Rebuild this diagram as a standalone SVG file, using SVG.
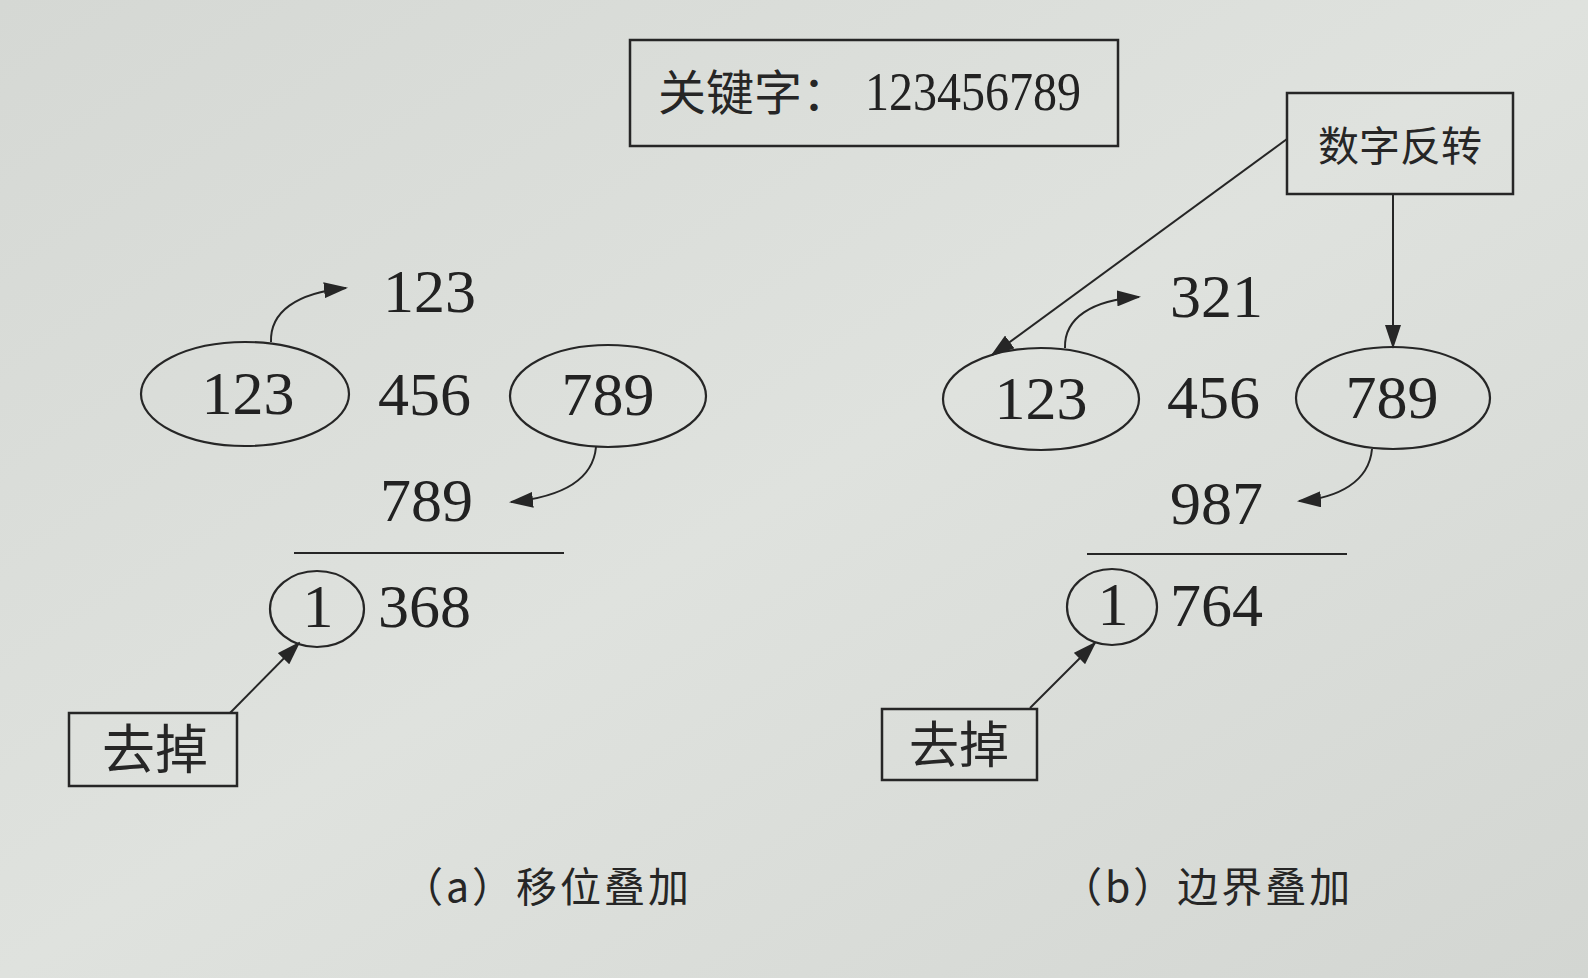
<svg xmlns="http://www.w3.org/2000/svg" width="1588" height="978" viewBox="0 0 1588 978">
<defs>
<marker id="ah" viewBox="0 0 24 16" refX="22" refY="8" markerWidth="24" markerHeight="16" markerUnits="userSpaceOnUse" orient="auto">
<path d="M0,0 L24,8 L0,16 Z" fill="#262626"/>
</marker>
<linearGradient id="bg" x1="0" y1="0" x2="1" y2="1">
<stop offset="0" stop-color="#d5d8d4"/>
<stop offset="0.5" stop-color="#dfe2de"/>
<stop offset="1" stop-color="#d3d6d2"/>
</linearGradient>
</defs>
<style>
.num{font-family:"Liberation Serif","Times New Roman",serif;font-size:62px;fill:#222}
.key{font-family:"Liberation Serif","Times New Roman",serif;font-size:55px;fill:#222}
.cjk{font-family:"Noto Sans CJK SC","Noto Sans",sans-serif;fill:#262626}
.cap{letter-spacing:3px}
.box{fill:none;stroke:#262626;stroke-width:2.5}
.shape{fill:none;stroke:#262626;stroke-width:2.2}
.conn{fill:none;stroke:#262626;stroke-width:2;marker-end:url(#ah)}
.rule{stroke:#262626;stroke-width:2.2}
</style>
<rect width="1588" height="978" fill="url(#bg)"/>

<g id="key">
<rect class="box" x="630" y="40" width="488" height="106"/>
<text class="cjk" x="658" y="110" font-size="48">关键字：</text>
<text class="key" x="865" y="110" textLength="216" lengthAdjust="spacingAndGlyphs">123456789</text>
</g>

<g id="reverse">
<rect class="box" x="1287" y="93" width="226" height="101"/>
<text class="cjk" x="1400" y="161" font-size="41" text-anchor="middle">数字反转</text>
</g>

<!-- (a) shift folding -->
<g id="a-top123"><text class="num" x="383" y="312">123</text></g>
<g id="a-e123">
<ellipse class="shape" cx="245" cy="394" rx="104" ry="52"/>
<text class="num" x="248" y="414" text-anchor="middle">123</text>
</g>
<g id="a-456"><text class="num" x="378" y="415">456</text></g>
<g id="a-e789">
<ellipse class="shape" cx="608" cy="396" rx="98" ry="51"/>
<text class="num" x="608" y="415" text-anchor="middle">789</text>
</g>
<g id="a-low789"><text class="num" x="380" y="521">789</text></g>
<g id="a-rule"><line class="rule" x1="294" y1="553" x2="564" y2="553"/></g>
<g id="a-c1">
<ellipse class="shape" cx="317" cy="609" rx="47" ry="38"/>
<text class="num" x="318" y="627" text-anchor="middle">1</text>
</g>
<g id="a-368"><text class="num" x="378" y="627">368</text></g>
<g id="a-drop">
<rect class="box" x="69" y="713" width="168" height="73"/>
<text class="cjk" x="155" y="769" font-size="53" text-anchor="middle">去掉</text>
</g>
<g id="a-caption"><text class="cjk cap" x="402" y="902" font-size="41">（a）移位叠加</text></g>

<!-- (b) boundary folding -->
<g id="b-top321"><text class="num" x="1170" y="317">321</text></g>
<g id="b-e123">
<ellipse class="shape" cx="1041" cy="399" rx="98" ry="51"/>
<text class="num" x="1041" y="419" text-anchor="middle">123</text>
</g>
<g id="b-456"><text class="num" x="1167" y="418">456</text></g>
<g id="b-e789">
<ellipse class="shape" cx="1393" cy="398" rx="97" ry="51"/>
<text class="num" x="1392" y="418" text-anchor="middle">789</text>
</g>
<g id="b-987"><text class="num" x="1170" y="524">987</text></g>
<g id="b-rule"><line class="rule" x1="1087" y1="554" x2="1347" y2="554"/></g>
<g id="b-c1">
<ellipse class="shape" cx="1112" cy="607" rx="45" ry="38"/>
<text class="num" x="1113" y="625" text-anchor="middle">1</text>
</g>
<g id="b-764"><text class="num" x="1170" y="626">764</text></g>
<g id="b-drop">
<rect class="box" x="882" y="709" width="155" height="71"/>
<text class="cjk" x="959" y="763" font-size="50" text-anchor="middle">去掉</text>
</g>
<g id="b-caption"><text class="cjk cap" x="1061" y="902" font-size="41">（b）边界叠加</text></g>

<g id="connectors">
<path class="conn" d="M271,342 C270,312 296,293 346,288"/>
<path class="conn" d="M596,447 C593,480 562,497 511,502"/>
<line class="conn" x1="230" y1="713" x2="299" y2="643"/>
<path class="conn" d="M1065,348 C1064,318 1092,300 1139,297"/>
<path class="conn" d="M1372,449 C1369,482 1338,498 1299,501"/>
<line class="conn" x1="1030" y1="708" x2="1095" y2="643"/>
<line class="conn" x1="1287" y1="139" x2="992" y2="355"/>
<line class="conn" x1="1393" y1="194" x2="1393" y2="347"/>
</g>
</svg>
